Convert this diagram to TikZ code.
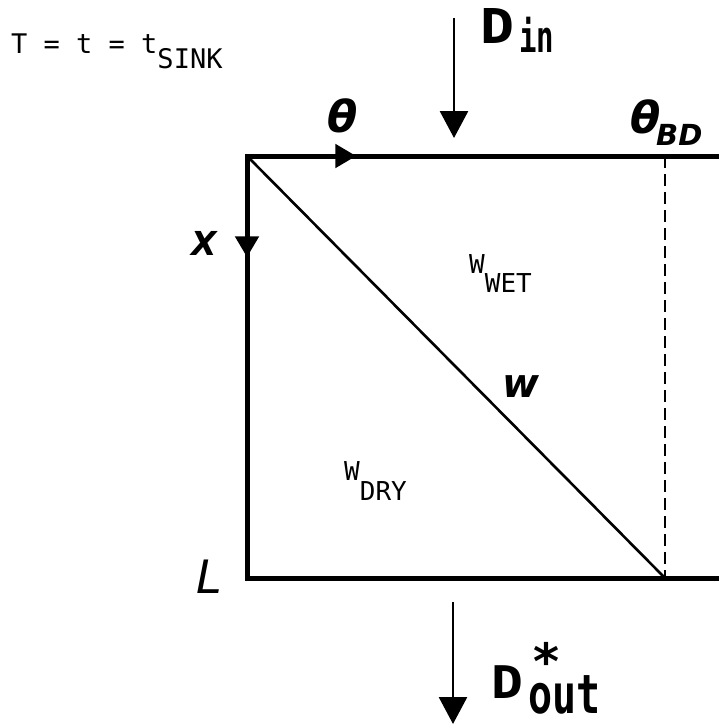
\documentclass[tikz,border=0pt]{standalone}
\usepackage{fontspec}
\setmainfont{DejaVu Sans}
\setmonofont{DejaVu Sans Mono}
\usetikzlibrary{arrows.meta,decorations.markings}
\tikzset{
  frameline/.style={line width=5pt,line cap=rect},
  midarrow/.style={postaction={decorate},decoration={markings,
      mark=at position #1 with {\arrow{Triangle[width=23pt,length=21pt]}}}},
  flowarrow/.style={line width=2.8pt,-{Triangle[width=28pt,length=27pt]}},
  lbl/.style={inner sep=0pt,anchor=base west},
}
\begin{document}
\begin{tikzpicture}[x=1pt,y=-1pt]
\useasboundingbox (0,0) rectangle (718,726);
% corners
\coordinate (TL) at (247,156);
\coordinate (TR) at (718,156);
\coordinate (BL) at (247,578);
\coordinate (BR) at (718,578);
\coordinate (DT) at (665,156);
\coordinate (DB) at (665,578);
% frame
\draw[frameline,midarrow=0.232] (TL) -- (TR);
\draw[frameline,midarrow=0.24] (TL) -- (BL);
\draw[frameline] (BL) -- (BR);
\draw[line width=2.6pt] (TL) -- (DB);
\draw[line width=1.5pt,dash pattern=on 12pt off 6pt] (DT) -- (DB);
% flows
\coordinate (dinS) at (454,18);
\coordinate (dinE) at (454,138);
\draw[flowarrow] (dinS) -- (dinE);
\coordinate (doutS) at (453,602);
\coordinate (doutE) at (453,724);
\draw[flowarrow] (doutS) -- (doutE);
% labels
\node[lbl,font=\ttfamily\fontsize{27}{27}\selectfont] (cond) at (11,53) {T = t = t\raisebox{-15pt}{SINK}};
\node[lbl,font=\ttfamily\bfseries\fontsize{48}{48}\selectfont] (din) at (480,43) {\scalebox{1.18}[1]{D}};
\node[lbl,font=\ttfamily\bfseries\fontsize{29}{29}\selectfont] (dinsub) at (519,52) {\scalebox{1}[1.5]{in}};
\node[lbl,font=\ttfamily\bfseries\fontsize{45}{45}\selectfont] (dout) at (491,698) {\scalebox{1.18}[1]{D}};
\node[lbl,font=\ttfamily\bfseries\fontsize{40}{40}\selectfont] (doutsub) at (528,713) {\raisebox{0pt}[30pt][0pt]{\scalebox{1}[1.35]{out}}};
\node[lbl,font=\ttfamily\bfseries\fontsize{50}{50}\selectfont] (star) at (531,671) {\raisebox{-8pt}[30pt][0pt]{*}};
\node[lbl,font=\bfseries\itshape\fontsize{44}{44}\selectfont] (theta) at (327,132) {θ};
\node[lbl,font=\bfseries\itshape\fontsize{44}{44}\selectfont] (thetabd) at (630,133) {θ};
\node[lbl,font=\bfseries\itshape\fontsize{29}{29}\selectfont] (bd) at (656,145) {BD};
\node[lbl,font=\bfseries\itshape\fontsize{33}{33}\selectfont] (xl) at (191,255) {X};
\node[lbl,font=\itshape\fontsize{46}{46}\selectfont] (ll) at (196,593) {L};
\node[lbl,font=\bfseries\itshape\fontsize{40}{40}\selectfont] (wl) at (502,397) {w};
\node[lbl,font=\ttfamily\fontsize{26}{26}\selectfont] (wwet) at (469,273) {W\raisebox{-19pt}{WET}};
\node[lbl,font=\ttfamily\fontsize{26}{26}\selectfont] (wdry) at (344,480) {W\raisebox{-20pt}{DRY}};
\end{tikzpicture}
\end{document}
